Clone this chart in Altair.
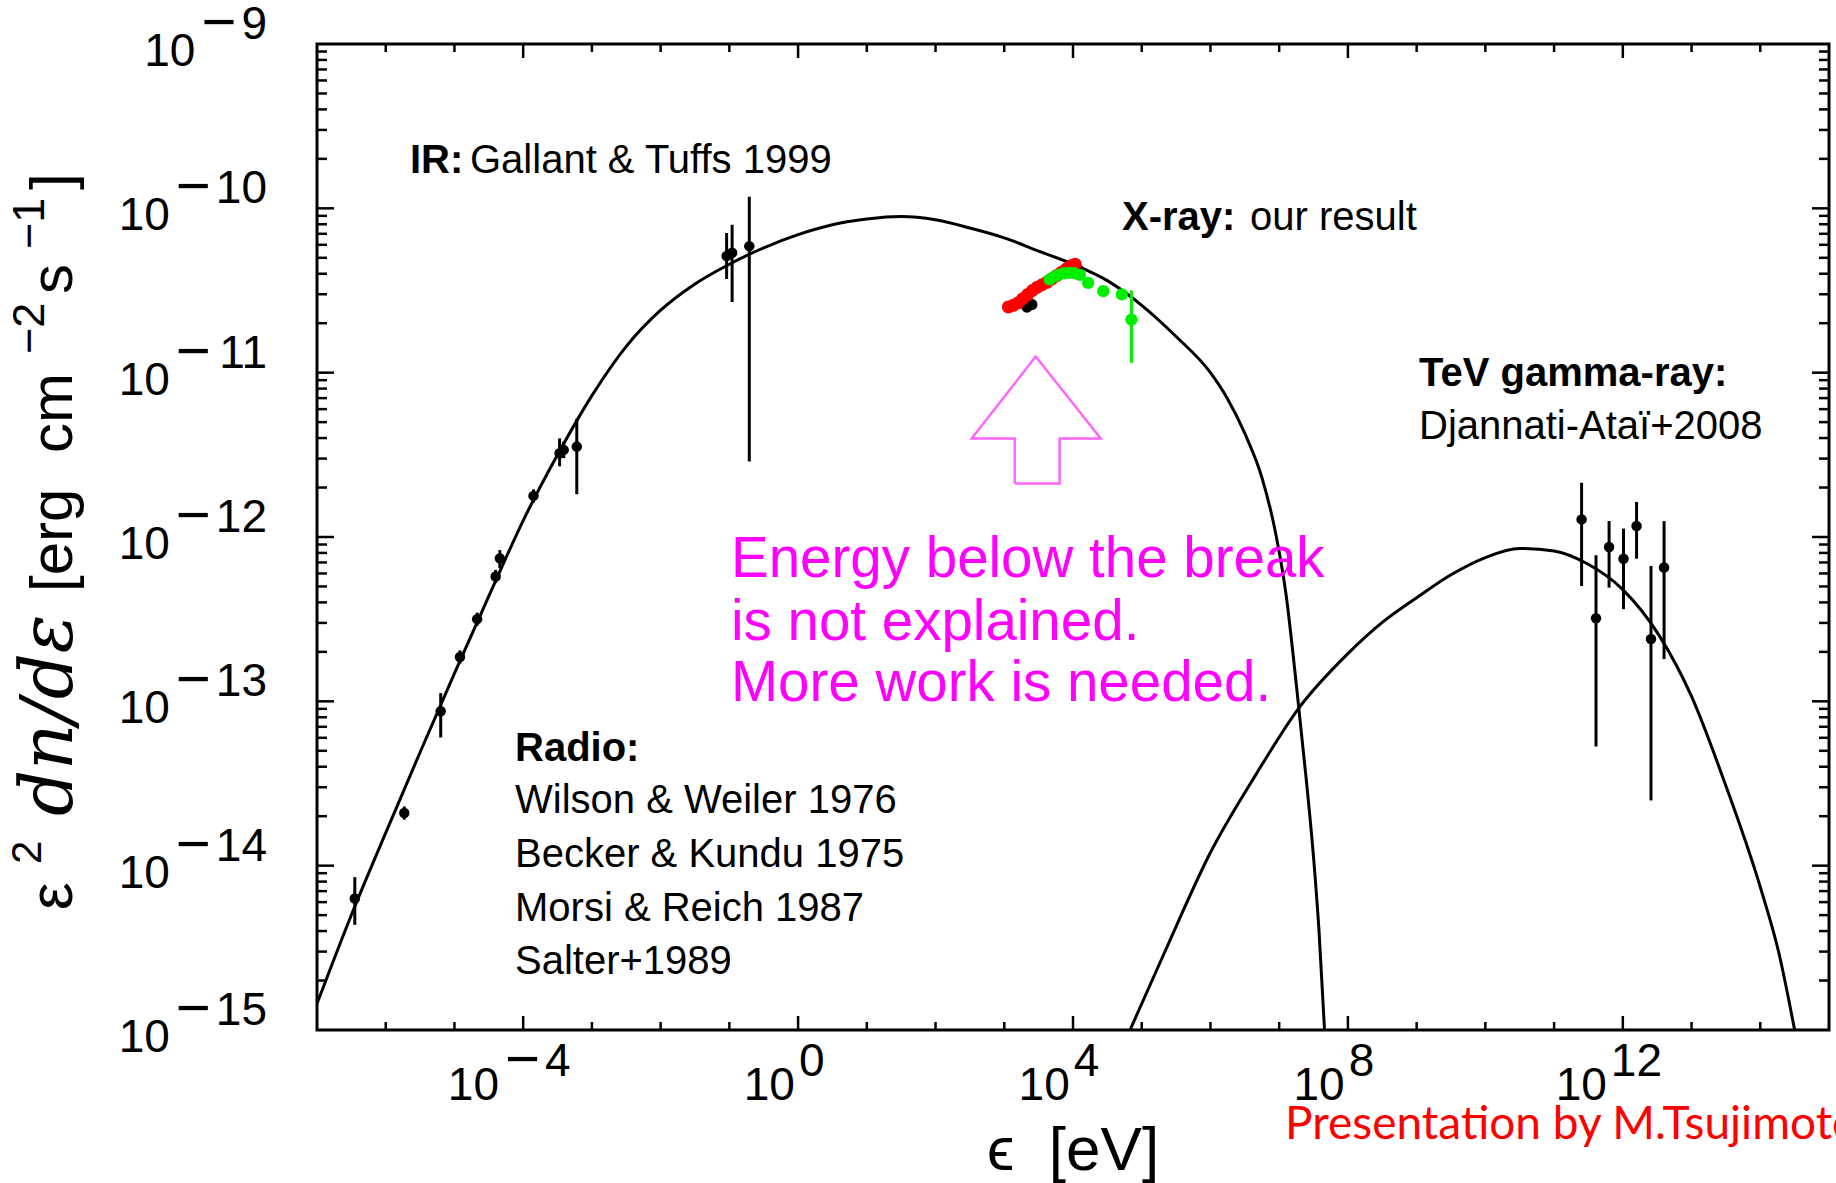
import altair as alt
import pandas as pd

# ---------------- data (log10 of energy [eV] and of e^2 dn/de) ----------------
radio_log_e  = [-6.45, -5.73, -5.20, -4.92, -4.67, -4.40, -4.34, -3.85, -3.47, -3.41, -3.22]
radio_log_f  = [-14.20, -13.68, -13.06, -12.73, -12.50, -12.24, -12.13, -11.75, -11.49, -11.47, -11.45]
radio_log_lo = [-14.36, -13.72, -13.22, -12.77, -12.54, -12.28, -12.19, -11.79, -11.57, -11.52, -11.74]
radio_log_hi = [-14.07, -13.64, -12.95, -12.69, -12.46, -12.20, -12.08, -11.71, -11.40, -11.42, -11.28]

ir_log_e  = [-1.04, -0.96, -0.71]
ir_log_f  = [-10.29, -10.27, -10.23]
ir_log_lo = [-10.43, -10.57, -11.54]
ir_log_hi = [-10.15, -10.10, -9.93]

xray_black_log_e = [3.33, 3.40, 4.02, 4.08]
xray_black_log_f = [-10.60, -10.585, -10.365, -10.375]

xray_red_log_e = [3.06, 3.13, 3.20, 3.27, 3.34, 3.41, 3.48, 3.55, 3.62, 3.69, 3.76, 3.83, 3.90, 3.97, 4.03]
xray_red_log_f = [-10.60, -10.59, -10.575, -10.55, -10.525, -10.50, -10.48, -10.465, -10.45, -10.43,
                  -10.41, -10.39, -10.37, -10.35, -10.34]

xray_green_log_e = [3.66, 3.73, 3.80, 3.87, 3.95, 4.02, 4.10, 4.22, 4.44, 4.71, 4.85]
xray_green_log_f = [-10.433, -10.415, -10.403, -10.395, -10.393, -10.395, -10.405, -10.454, -10.504, -10.524, -10.677]
xray_green_err_log_e  = [4.85]
xray_green_err_log_lo = [-10.94]
xray_green_err_log_hi = [-10.50]

tev_log_e  = [11.40, 11.61, 11.80, 12.01, 12.20, 12.41, 12.60]
tev_log_f  = [-11.893, -12.494, -12.061, -12.132, -11.933, -12.621, -12.186]
tev_log_lo = [-12.298, -13.275, -12.308, -12.439, -12.132, -13.603, -12.743]
tev_log_hi = [-11.670, -12.111, -11.903, -11.949, -11.787, -12.176, -11.903]

sync_log_e = [-7.0, -6.5, -6.0, -5.5, -5.0, -4.5, -4.0, -3.5, -3.0, -2.5, -2.0, -1.5, -1.0, -0.5,
              0.0, 0.5, 1.0, 1.5, 2.0, 2.5, 3.0, 3.5, 4.0, 4.5, 5.0, 5.5, 6.0, 6.25, 6.5, 6.75,
              6.95, 7.1, 7.25, 7.4, 7.5, 7.58, 7.66]
sync_log_f = [-14.84, -14.30, -13.80, -13.31, -12.83, -12.36, -11.90, -11.50, -11.14, -10.84, -10.62,
              -10.46, -10.34, -10.24, -10.16, -10.10, -10.065, -10.05, -10.07, -10.12, -10.18, -10.26,
              -10.34, -10.44, -10.59, -10.78, -11.00, -11.16, -11.37, -11.64, -11.98, -12.35, -12.90,
              -13.50, -13.95, -14.40, -15.0]

ic_log_e = [4.83, 5.33, 6.0, 6.67, 7.27, 8.0, 8.5, 9.0, 9.5, 10.0, 10.5, 11.0, 11.47, 12.0, 12.53,
            13.0, 13.47, 14.0, 14.27, 14.5]
ic_log_f = [-15.0, -14.53, -13.92, -13.44, -13.05, -12.71, -12.52, -12.37, -12.23, -12.125, -12.07,
            -12.085, -12.16, -12.32, -12.60, -12.97, -13.48, -14.13, -14.53, -15.0]

# up-arrow outline (annotation)
arrow_log_e = [3.152, 3.152, 2.526, 3.457, 4.403, 3.806, 3.806, 3.152]
arrow_log_f = [-11.675, -11.401, -11.401, -10.902, -11.401, -11.401, -11.675, -11.675]

# axes
x_tick_all = list(range(-6, 15))
x_tick_major = [-4, 0, 4, 8, 12]
x_label_neg = [True, False, False, False, False]
x_label_dig = ["4", "0", "4", "8", "12"]
y_tick_major = [-14, -13, -12, -11, -10]
y_label_pow = [-9, -10, -11, -12, -13, -14, -15]
y_label_dig = ["9", "10", "11", "12", "13", "14", "15"]

# ---------------- layout ----------------
W, H = 1512, 986
FONT = "Liberation Sans"
FS_TICK = 46
FS_MINUS = 60
W_MINUS = 35
DEC = W / 22.0

xs = alt.Scale(type="log", domain=[1e-7, 1e15])
ys = alt.Scale(type="log", domain=[1e-15, 1e-9])
X = alt.X("e:Q", scale=xs, axis=None)
Y = alt.Y("f:Q", scale=ys, axis=None)


def pw(v):
    return [10.0 ** a for a in v]


def pts(le, lf):
    return pd.DataFrame({"e": pw(le), "f": pw(lf), "i": list(range(len(le)))})


def errs(le, lo, hi):
    return pd.DataFrame({"e": pw(le), "lo": pw(lo), "hi": pw(hi)})


def errbar(df, color="black", width=3):
    return alt.Chart(df).mark_rule(color=color, strokeWidth=width).encode(
        x=X, y=alt.Y("lo:Q", scale=ys, axis=None), y2="hi:Q")


def dots(df, color="black", size=110):
    return alt.Chart(df).mark_circle(color=color, size=size, opacity=1).encode(x=X, y=Y)


def curve(df, color="black", width=3):
    return alt.Chart(df).mark_line(color=color, strokeWidth=width, interpolate="monotone", clip=True).encode(
        x=X, y=Y, order="i:Q")


def tw(s, size):
    return size * 0.556 * len(s)


def label(text, x, y, size, color="black", weight="normal", font=FONT, align="left",
          baseline="middle", angle=0, style="normal"):
    return alt.Chart(pd.DataFrame({"t": [text]})).mark_text(
        align=align, baseline=baseline, fontSize=size, font=font, fontWeight=weight,
        color=color, angle=angle, fontStyle=style).encode(
        x=alt.value(x), y=alt.value(y), text="t:N")


def txt(df, xenc, yenc, field, align, size, dy=0):
    return alt.Chart(df).mark_text(align=align, baseline="alphabetic", fontSize=size, font=FONT, dy=dy).encode(
        x=xenc, y=yenc, text=field)


layers = []

# ticks (inward, on all four sides)
xt_major = pd.DataFrame({"e": pw(x_tick_major)})
xt_minor = pd.DataFrame({"e": pw([k for k in x_tick_all if k not in x_tick_major])})
for df, L in [(xt_major, 14), (xt_minor, 8)]:
    layers.append(alt.Chart(df).mark_rule(color="black", strokeWidth=2.5).encode(
        x=X, y=alt.value(H), y2=alt.value(H - L)))
    layers.append(alt.Chart(df).mark_rule(color="black", strokeWidth=2.5).encode(
        x=X, y=alt.value(0), y2=alt.value(L)))
yt_major = pd.DataFrame({"f": pw(y_tick_major)})
yt_minor = pd.DataFrame({"f": [k * 10.0 ** n for n in range(-15, -9) for k in range(2, 10)]})
for df, L in [(yt_major, 17), (yt_minor, 10)]:
    layers.append(alt.Chart(df).mark_rule(color="black", strokeWidth=2.5).encode(
        y=Y, x=alt.value(0), x2=alt.value(L)))
    layers.append(alt.Chart(df).mark_rule(color="black", strokeWidth=2.5).encode(
        y=Y, x=alt.value(W), x2=alt.value(W - L)))

# x tick labels: "10" + raised (minus) exponent
w10 = tw("10", FS_TICK)
rows = []
for k, neg, dg in zip(x_tick_major, x_label_neg, x_label_dig):
    wd = tw(dg, FS_TICK)
    tot = w10 + (6 + W_MINUS + 5 if neg else 4) + wd
    left = -14 - tot / 2.0
    r10 = left + w10
    lm = r10 + 6
    ld = (lm + W_MINUS + 5) if neg else (r10 + 4)
    rows.append({"be": 10.0 ** (k + r10 / DEC), "me": 10.0 ** (k + lm / DEC), "de": 10.0 ** (k + ld / DEC),
                 "b": "10", "m": "−" if neg else "", "d": dg})
xl = pd.DataFrame(rows)
layers.append(txt(xl, alt.X("be:Q", scale=xs, axis=None), alt.value(H + 70), "b:N", "right", FS_TICK))
layers.append(txt(xl, alt.X("de:Q", scale=xs, axis=None), alt.value(H + 46), "d:N", "left", FS_TICK))
layers.append(txt(xl[xl["m"] != ""], alt.X("me:Q", scale=xs, axis=None), alt.value(H + 49), "m:N", "left", FS_MINUS))

# y tick labels
yl = pd.DataFrame({"f": pw(y_label_pow), "b": "10", "m": "−", "d": y_label_dig,
                   "pm": [-50 - tw(d, FS_TICK) - 5 for d in y_label_dig]})
yl["pb"] = yl["pm"] - W_MINUS - 6
layers.append(txt(yl, alt.value(-50), Y, "d:N", "right", FS_TICK, dy=-5))
for pm, grp in yl.groupby("pm"):
    layers.append(txt(grp, alt.value(float(pm)), Y, "m:N", "right", FS_MINUS, dy=-2))
for pb, grp in yl.groupby("pb"):
    layers.append(txt(grp, alt.value(float(pb)), Y, "b:N", "right", FS_TICK, dy=22))

# model curves
layers.append(curve(pts(sync_log_e, sync_log_f)))
layers.append(curve(pts(ic_log_e, ic_log_f)))

# data
layers.append(errbar(errs(radio_log_e, radio_log_lo, radio_log_hi)))
layers.append(dots(pts(radio_log_e, radio_log_f)))
layers.append(errbar(errs(ir_log_e, ir_log_lo, ir_log_hi)))
layers.append(dots(pts(ir_log_e, ir_log_f)))
layers.append(errbar(errs(tev_log_e, tev_log_lo, tev_log_hi)))
layers.append(dots(pts(tev_log_e, tev_log_f)))
layers.append(dots(pts(xray_black_log_e, xray_black_log_f), size=130))
layers.append(dots(pts(xray_red_log_e, xray_red_log_f), color="#ff0000", size=170))
layers.append(errbar(errs(xray_green_err_log_e, xray_green_err_log_lo, xray_green_err_log_hi), color="#00ee00"))
layers.append(dots(pts(xray_green_log_e, xray_green_log_f), color="#00ee00", size=150))

# arrow
layers.append(alt.Chart(pts(arrow_log_e, arrow_log_f)).mark_line(color="#ff66ff", strokeWidth=2.5).encode(
    x=X, y=Y, order="i:Q"))

# annotations
MAG = "#ff00ff"
layers += [
    label("IR:", 93, 117, 40, weight="bold"),
    label("Gallant & Tuffs 1999", 153, 117, 40),
    label("X-ray:", 805, 174, 40, weight="bold"),
    label("our result", 933, 174, 40),
    label("TeV gamma-ray:", 1102, 330, 40, weight="bold"),
    label("Djannati-Ataï+2008", 1102, 383, 40),
    label("Radio:", 198, 705, 40, weight="bold"),
    label("Wilson & Weiler 1976", 198, 757, 40),
    label("Becker & Kundu 1975", 198, 811, 40),
    label("Morsi & Reich 1987", 198, 865, 40),
    label("Salter+1989", 198, 918, 40),
    label("Energy below the break", 414, 516, 56.5, color=MAG),
    label("is not explained.", 414, 579, 56.5, color=MAG),
    label("More work is needed.", 414, 640, 56.5, color=MAG),
    label("Presentation by M.Tsujimoto", 968, 1081, 46, color="#ff0000", font="Lato"),
    label("ϵ\u00a0\u00a0[eV]", 670, 1126, 62, baseline="alphabetic"),
]
# y-axis title pieces (rotated)
for t, x, y, s, f, st in [
    ("ε", -245, 866, 62, FONT, "normal"),
    ("2", -276, 820, 42, FONT, "normal"),
    ("dn/dε", -245, 772, 72, "DejaVu Serif", "italic"),
    ("[erg", -245, 548, 60, FONT, "normal"),
    ("cm", -245, 409, 60, FONT, "normal"),
    ("−2", -273, 310, 45, FONT, "normal"),
    ("s", -245, 250, 60, FONT, "normal"),
    ("−1", -273, 205, 45, FONT, "normal"),
    ("]", -245, 146, 60, FONT, "normal"),
]:
    layers.append(label(t, x, y, s, font=f, style=st, baseline="alphabetic", angle=270))

chart = alt.layer(*layers).properties(
    width=W, height=H,
    autosize=alt.AutoSizeParams(type="none"),
    padding={"left": 317, "top": 44, "right": 7, "bottom": 153},
    background="white",
).configure_view(stroke="black", strokeWidth=3)

chart.save("out.html", embed_options={"renderer": "svg", "actions": False})
